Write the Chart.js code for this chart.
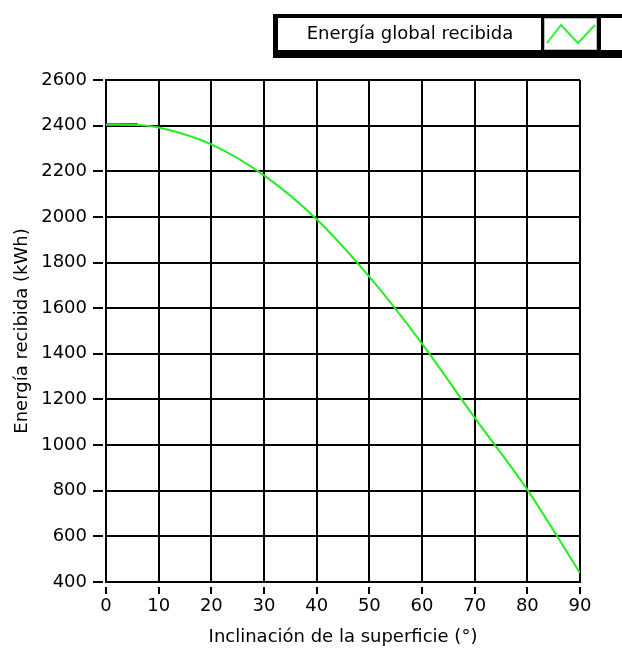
<!DOCTYPE html>
<html>
<head>
<meta charset="utf-8">
<script src="https://cdn.jsdelivr.net/npm/chart.js@4.4.0/dist/chart.umd.min.js"></script>
<style>
  html, body { margin: 0; padding: 0; background: #fff; }
  #wrap { width: 622px; height: 651px; }
</style>
</head>
<body>
<div id="wrap"><canvas id="grafica"></canvas></div>
<script>
// valores
const inclinacion = [0, 6, 10, 20, 30, 40, 50, 60, 70, 80, 90];
const energia = [2405, 2403, 2392, 2318, 2182, 1990, 1738, 1445, 1120, 805, 440];
// tramo inicial plano (mas oscuro)
const tramoX = [0, 6];
const tramoY = [2405, 2405];
const ticksY = [400, 600, 800, 1000, 1200, 1400, 1600, 1800, 2000, 2200, 2400, 2600];

const fuente = { family: 'DejaVu Sans', size: 18 };

// leyenda dibujada como en el original
const leyenda = {
  id: 'leyenda',
  afterDraw(chart) {
    const ctx = chart.ctx;
    ctx.save();
    ctx.fillStyle = '#000';
    ctx.fillRect(273, 14, 349, 44);
    ctx.fillStyle = '#fff';
    ctx.fillRect(278, 18, 263, 32);
    ctx.fillRect(544, 18, 53, 32);
    ctx.fillRect(601, 18, 21, 32);
    ctx.strokeStyle = '#bbb';
    ctx.lineWidth = 1;
    ctx.strokeRect(544.5, 18.5, 52, 31);
    ctx.fillStyle = '#000';
    ctx.font = '18px "DejaVu Sans"';
    ctx.textAlign = 'center';
    ctx.textBaseline = 'middle';
    ctx.fillText(chart.data.datasets[0].label, 410, 34);
    ctx.strokeStyle = '#33ee33';
    ctx.lineWidth = 2;
    ctx.beginPath();
    ctx.moveTo(547, 43);
    ctx.lineTo(561, 25);
    ctx.lineTo(578, 43);
    ctx.lineTo(595, 25);
    ctx.stroke();
    ctx.restore();
  }
};

new Chart(document.getElementById('grafica'), {
  type: 'line',
  data: {
    datasets: [
      {
        label: 'Energía global recibida',
        data: inclinacion.map((x, i) => ({ x, y: energia[i] })),
        borderColor: '#22ee22',
        borderWidth: 2,
        pointRadius: 0,
        cubicInterpolationMode: 'monotone',
        fill: false
      },
      {
        label: 'tramo',
        data: tramoX.map((x, i) => ({ x, y: tramoY[i] })),
        borderColor: '#0c8a0c',
        borderWidth: 3,
        pointRadius: 0,
        fill: false
      }
    ]
  },
  options: {
    responsive: true,
    maintainAspectRatio: false,
    animation: false,
    layout: { padding: { top: 80, right: 42, left: 0, bottom: 0 } },
    plugins: {
      legend: { display: false },
      tooltip: { enabled: false }
    },
    scales: {
      x: {
        type: 'linear',
        min: 0,
        max: 90,
        afterFit(s) { s.height = 69; },
        ticks: { stepSize: 10, color: '#000', font: fuente, padding: 2, maxRotation: 0, callback: v => String(v) },
        grid: { color: '#000', lineWidth: 2, tickLength: 12, tickBorderDash: [0, 4, 7, 100], tickColor: '#000', tickWidth: 2 },
        border: { color: '#000', width: 2 },
        title: { display: true, text: 'Inclinación de la superficie (°)', color: '#000', font: fuente, padding: { top: 0, bottom: 3 } }
      },
      y: {
        min: 400,
        max: 2600,
        afterFit(s) { s.width = 106; },
        afterBuildTicks(s) { s.ticks = ticksY.map(v => ({ value: v })); },
        ticks: { color: '#000', font: fuente, padding: 6, callback: v => String(v) },
        grid: { color: '#000', lineWidth: 2, tickLength: 13, tickBorderDash: [10, 100], tickColor: '#000', tickWidth: 2 },
        border: { color: '#000', width: 2 },
        title: { display: true, text: 'Energía recibida (kWh)', color: '#000', font: fuente, padding: { top: 12, bottom: 0 } }
      }
    }
  },
  plugins: [leyenda]
});
</script>
</body>
</html>
